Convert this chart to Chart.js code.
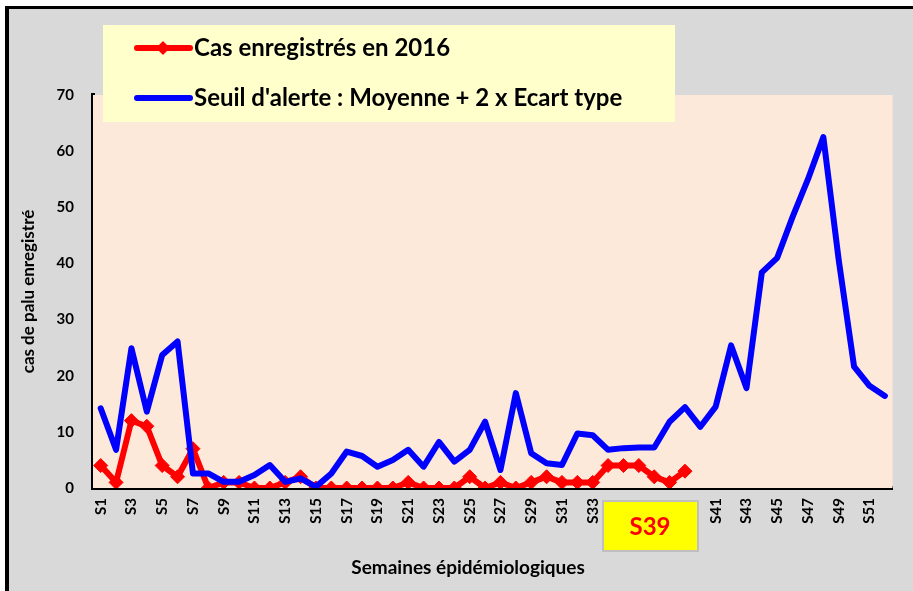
<!DOCTYPE html>
<html>
<head>
<meta charset="utf-8">
<script src="https://cdn.jsdelivr.net/npm/chart.js@4.4.1/dist/chart.umd.min.js"></script>
<style>
    body { margin: 0; background: #fff; }
    #frame {
        position: absolute; left: 5px; top: 6px; width: 904px; height: 582px;
        background: #d9d9d9; border-left: 4px solid #000; border-top: 3px solid #000;
    }
    #wrap { position: absolute; left: 0; top: 0; width: 913px; height: 591px; }
</style>
</head>
<body>
<div id="frame"></div>
<div id="wrap"><canvas id="paluChart" width="913" height="591"></canvas></div>
<script>
// Semaines epidemiologiques
const weeks = ["S1", "S2", "S3", "S4", "S5", "S6", "S7", "S8", "S9", "S10",
    "S11", "S12", "S13", "S14", "S15", "S16", "S17", "S18", "S19", "S20",
    "S21", "S22", "S23", "S24", "S25", "S26", "S27", "S28", "S29", "S30",
    "S31", "S32", "S33", "S34", "S35", "S36", "S37", "S38", "S39", "S40",
    "S41", "S42", "S43", "S44", "S45", "S46", "S47", "S48", "S49", "S50",
    "S51", "S52"];

// Cas enregistres en 2016 (jusqu'a S39)
const cases2016 = [4, 1, 12, 11, 4, 2, 7, 0, 1, 1,
    0, 0, 1, 2, 0, 0, 0, 0, 0, 0,
    1, 0, 0, 0, 2, 0, 1, 0, 1, 2,
    1, 1, 1, 4, 4, 4, 2, 1, 3];

// Seuil d'alerte : moyenne + 2 x ecart type
const alertThreshold = [14.2, 6.8, 24.9, 13.6, 23.7, 26.1, 2.6, 2.6, 1.1, 1.1,
    2.3, 4.1, 1.1, 1.7, 0.2, 2.6, 6.5, 5.7, 3.8, 5.0,
    6.8, 3.8, 8.2, 4.7, 6.8, 11.8, 3.2, 16.9, 6.2, 4.4,
    4.1, 9.7, 9.4, 6.8, 7.1, 7.2, 7.2, 11.8, 14.4, 10.9,
    14.5, 25.4, 17.8, 38.4, 41.0, 48.3, 55.0, 62.5, 40.6, 21.6,
    18.2, 16.4];

const yTicks = [0, 10, 20, 30, 40, 50, 60, 70];

// labels hidden under the S39 box
const hiddenWeeks = ["S35", "S37", "S39"];

const FONT = "Lato";

// fond de la zone de tracé, légende, encadré S39, titre de l'axe X
const decor = {
    id: "decor",
    beforeDatasetsDraw(chart) {
        const { ctx, chartArea: a } = chart;
        ctx.save();
        ctx.fillStyle = "#fde9d9";
        ctx.fillRect(a.left, a.top, a.right - a.left, a.bottom - a.top);
        ctx.restore();
    },
    afterDraw(chart) {
        const ctx = chart.ctx;
        ctx.save();

        // legend
        ctx.fillStyle = "#ffffcc";
        ctx.fillRect(103, 25, 572, 97);
        const entries = [
            { text: "Cas enregistrés en 2016", color: "#ff0000", y: 48, marker: true },
            { text: "Seuil d'alerte : Moyenne + 2 x Ecart type", color: "#0000ff", y: 98, marker: false },
        ];
        entries.forEach((e) => {
            ctx.strokeStyle = e.color;
            ctx.lineWidth = 6;
            ctx.lineCap = "round";
            ctx.beginPath();
            ctx.moveTo(137, e.y);
            ctx.lineTo(190, e.y);
            ctx.stroke();
            if (e.marker) {
                ctx.fillStyle = e.color;
                ctx.beginPath();
                ctx.moveTo(163 - 7, e.y);
                ctx.lineTo(163, e.y - 7);
                ctx.lineTo(163 + 7, e.y);
                ctx.lineTo(163, e.y + 7);
                ctx.closePath();
                ctx.fill();
            }
            ctx.fillStyle = "#000";
            ctx.font = "bold 24px " + FONT;
            ctx.textAlign = "left";
            ctx.textBaseline = "middle";
            ctx.fillText(e.text, 194, e.y);
        });

        // S39 box
        ctx.fillStyle = "#ffff00";
        ctx.fillRect(603, 501, 95, 50);
        ctx.strokeStyle = "#bfbfbf";
        ctx.lineWidth = 2;
        ctx.strokeRect(603, 501, 95, 50);
        ctx.fillStyle = "#ff0000";
        ctx.font = "bold 24px " + FONT;
        ctx.textAlign = "center";
        ctx.textBaseline = "middle";
        ctx.fillText("S39", 650, 527);

        // x axis title
        ctx.fillStyle = "#000";
        ctx.font = "bold 19px " + FONT;
        ctx.fillText("Semaines épidémiologiques", 468, 568);

        ctx.restore();
    },
};

const ctx = document.getElementById("paluChart").getContext("2d");
new Chart(ctx, {
    type: "line",
    data: {
        labels: weeks,
        datasets: [
            {
                label: "Cas enregistrés en 2016",
                data: cases2016,
                borderColor: "#ff0000",
                backgroundColor: "#ff0000",
                borderWidth: 6,
                pointStyle: "rectRot",
                pointRadius: 7,
                pointBorderWidth: 1,
                tension: 0,
                order: 1,
            },
            {
                label: "Seuil d'alerte : Moyenne + 2 x Ecart type",
                data: alertThreshold,
                borderColor: "#0000ff",
                backgroundColor: "#0000ff",
                borderWidth: 6,
                borderJoinStyle: "round",
                borderCapStyle: "round",
                pointRadius: 0,
                tension: 0,
                order: 0,
            },
        ],
    },
    options: {
        responsive: false,
        animation: false,
        layout: { padding: { left: 10, right: 15, top: 95, bottom: 0 } },
        plugins: {
            legend: { display: false },
            tooltip: { enabled: false },
        },
        scales: {
            x: {
                offset: true,
                grid: { display: false, drawTicks: false },
                border: { display: true, color: "#000", width: 4 },
                ticks: {
                    autoSkip: false,
                    maxRotation: 90,
                    minRotation: 90,
                    padding: 10,
                    color: "#000",
                    font: { family: FONT, size: 15, weight: "bold" },
                    callback: (val, i) =>
                        (i % 2 === 0 && !hiddenWeeks.includes(weeks[i]) ? weeks[i] : ""),
                },
                afterFit: (scale) => { scale.height = 103; },
            },
            y: {
                min: 0,
                max: 70,
                grid: { display: false, drawTicks: false },
                border: { display: true, color: "#000", width: 4 },
                afterBuildTicks: (scale) => { scale.ticks = yTicks.map((v) => ({ value: v })); },
                ticks: {
                    padding: 19,
                    color: "#000",
                    font: { family: FONT, size: 15, weight: "bold" },
                },
                title: {
                    display: true,
                    text: "cas de palu enregistré",
                    color: "#000",
                    padding: { top: 8, bottom: 0 },
                    font: { family: FONT, size: 17, weight: "bold" },
                },
                afterFit: (scale) => { scale.width = 83; },
            },
        },
    },
    plugins: [decor],
});
</script>
</body>
</html>
